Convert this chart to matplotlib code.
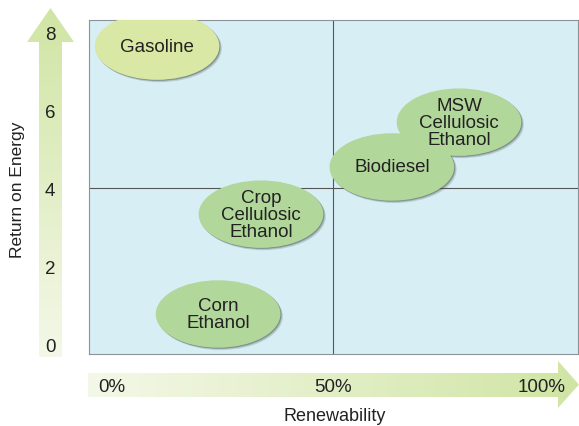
import numpy as np
import matplotlib
matplotlib.use("Agg")
import matplotlib.pyplot as plt
from matplotlib.patches import Ellipse, Polygon
from matplotlib.colors import LinearSegmentedColormap
from matplotlib.transforms import ScaledTranslation

plt.rcParams["font.family"] = ["Liberation Sans", "DejaVu Sans"]

# fuels: renewability (%) and return on energy
fuels = ["Gasoline", "MSW\nCellulosic\nEthanol", "Biodiesel",
         "Crop\nCellulosic\nEthanol", "Corn\nEthanol"]
renewability = [10.2, 78.5, 63.3, 33.7, 24.0]
energy_return = [7.64, 5.69, 4.54, 3.33, 0.77]
fill_colors = ["#d9e8a4", "#b2d79b", "#b2d79b", "#b2d79b", "#b2d79b"]

x_ticks = [0, 50, 100]
x_tick_labels = ["0%", "50%", "100%"]
y_ticks = [0, 2, 4, 6, 8]

W, H = 579, 427
fig = plt.figure(figsize=(W / 100, H / 100), dpi=100)

# background layer in pixel coordinates for the gradient arrows
bg = fig.add_axes([0, 0, 1, 1], zorder=0)
bg.set_xlim(0, W)
bg.set_ylim(H, 0)
bg.axis("off")

arrow_cmap = LinearSegmentedColormap.from_list("arr", ["#f4f8e8", "#d0e5a4"])

def gradient_arrow(points, extent, vertical):
    poly = Polygon(points, closed=True, facecolor="none", edgecolor="none")
    bg.add_patch(poly)
    grad = np.linspace(0, 1, 256)
    if vertical:
        img = grad.reshape(-1, 1)
    else:
        img = grad.reshape(1, -1)
    im = bg.imshow(img, cmap=arrow_cmap, extent=extent, aspect="auto",
                   origin="upper" if not vertical else "lower", zorder=1)
    im.set_clip_path(poly)

# vertical arrow (return on energy)
gradient_arrow([(39, 358), (39, 43), (27, 43), (50.5, 9), (74, 43), (62, 43), (62, 358)],
               [27, 74, 358, 9], vertical=True)
# horizontal arrow (renewability)
gradient_arrow([(88, 374), (558, 374), (558, 362), (579, 385.5), (558, 409), (558, 398), (88, 398)],
               [88, 579, 409, 362], vertical=False)

ax = fig.add_axes([89 / W, (H - 355) / H, (578 - 89) / W, (355 - 21) / H], zorder=2)
ax.set_facecolor("#d8eef5")
ax.set_xlim(-5.2, 105.4)
ax.set_ylim(-0.256, 8.31)
for s in ax.spines.values():
    s.set_color("#8a9498")
    s.set_linewidth(0.8)

ax.axvline(50, color="#555555", lw=0.8, zorder=1)
ax.axhline(4, color="#555555", lw=0.8, zorder=1)

ew, eh = 28.2, 1.73
for name, x, y, c in zip(fuels, renewability, energy_return, fill_colors):
    for k, a in zip([1.0, 0.6, 0.3], [0.18, 0.25, 0.35]):
        ax.add_patch(Ellipse((x + 0.55 * k, y - 0.06 * k), ew, eh,
                             facecolor="#3c4a40", edgecolor="none", alpha=a, zorder=2))
    ax.add_patch(Ellipse((x, y), ew, eh, facecolor=c, edgecolor="none", zorder=3))
    ax.text(x, y, name, ha="center", va="center", fontsize=13.5,
            color="#222222", linespacing=1.0, zorder=4)

ax.set_xticks(x_ticks)
ax.set_xticklabels(x_tick_labels)
ax.set_yticks(y_ticks)
ax.tick_params(length=0, labelsize=13.5, labelcolor="#222222")
ax.tick_params(axis="x", pad=17)
ax.tick_params(axis="y", pad=28)
for lbl in ax.get_yticklabels():
    lbl.set_horizontalalignment("center")
xl = ax.get_xticklabels()
xl[-1].set_transform(xl[-1].get_transform() + ScaledTranslation(-12 / 100, 0, fig.dpi_scale_trans))

fig.text(18 / W, 1 - 190 / H, "Return on Energy", rotation=90, ha="center", va="center",
         fontsize=12.5, color="#222222")
fig.text(335 / W, 1 - 417 / H, "Renewability", ha="center", va="center",
         fontsize=13, color="#222222")

fig.savefig("out.png", dpi=100)
